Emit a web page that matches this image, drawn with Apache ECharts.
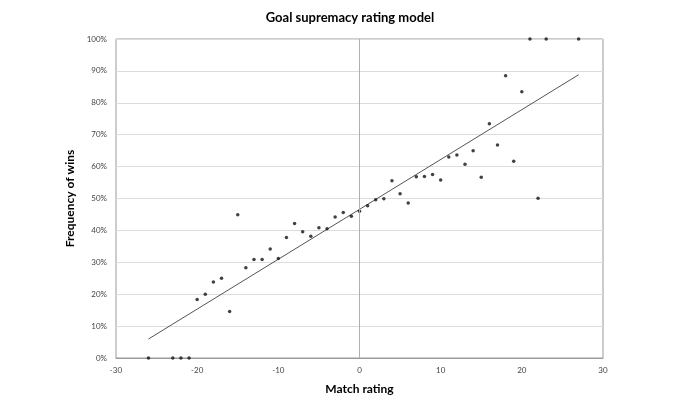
<!DOCTYPE html>
<html><head><meta charset="utf-8">
<script src="https://cdn.jsdelivr.net/npm/echarts@6/dist/echarts.min.js"></script>
<style>html,body{margin:0;padding:0;background:#fff}#c{width:700px;height:400px}</style>
</head><body><div id="c"></div>
<script>
const ratings = [-26,-23,-22,-21,-20,-19,-18,-17,-16,-15,-14,-13,-12,-11,-10,-9,-8,-7,-6,-5,-4,-3,-2,-1,0,1,2,3,4,5,6,7,8,9,10,11,12,13,14,15,16,17,18,19,20,21,22,23,27];
const winFreq = [0,0,0,0,18.3,20.0,23.8,25.0,14.6,44.9,28.3,30.9,30.9,34.2,31.2,37.8,42.2,39.6,38.2,40.8,40.5,44.2,45.6,44.4,46.0,47.7,49.6,49.9,55.6,51.5,48.6,56.8,56.9,57.5,55.8,63.0,63.6,60.7,65.0,56.7,73.4,66.8,88.5,61.7,83.5,100,50.1,100,100];
const trendX = [-26, 27];
const trendY = [5.95, 88.8];
const xTicks = [-30,-20,-10,0,10,20,30];

const font = 'Lato, "Open Sans", "Liberation Sans", sans-serif';
const chart = echarts.init(document.getElementById('c'), null, {renderer:'canvas'});
chart.setOption({
  animation:false,
  backgroundColor:'#fff',
  title:{text:'Goal supremacy rating model', left:'center', top:6,
    textStyle:{fontFamily:font, fontSize:13, fontWeight:'bold', color:'#000'}},
  grid:{left:116, right:97, top:39, bottom:42, show:true, borderColor:'#9a9a9a', borderWidth:1},
  xAxis:{type:'value', min:xTicks[0], max:xTicks[xTicks.length-1], interval:10,
    name:'Match rating', nameLocation:'middle', nameGap:25,
    nameTextStyle:{fontFamily:font, fontSize:12, fontWeight:'bold', color:'#000'},
    axisLine:{show:true, onZero:false, lineStyle:{color:'#9a9a9a'}},
    axisTick:{show:false},
    axisLabel:{fontFamily:font, fontSize:8, color:'#444', margin:8},
    splitLine:{show:false}},
  yAxis:{type:'value', min:0, max:100, interval:10,
    name:'Frequency of wins', nameLocation:'middle', nameGap:33,
    nameTextStyle:{fontFamily:font, fontSize:12, fontWeight:'bold', color:'#000'},
    axisLine:{show:false},
    axisTick:{show:false},
    axisLabel:{fontFamily:font, fontSize:8, color:'#444', margin:9, formatter:v=>v+'%'},
    splitLine:{show:true, lineStyle:{color:'#dcdcdc', width:1}}},
  series:[
    {type:'line', data:trendX.map((x,i)=>[x,trendY[i]]), symbol:'none',
     lineStyle:{color:'#555', width:1}, z:2,
     markLine:{silent:true, symbol:'none', label:{show:false},
       lineStyle:{color:'#b0b0b0', width:1, type:'solid'}, data:[{xAxis:0}]}},
    {type:'scatter', data:ratings.map((x,i)=>[x,winFreq[i]]), symbol:'circle', symbolSize:3.5,
     itemStyle:{color:'#111'}, z:3}
  ]
});
</script></body></html>
